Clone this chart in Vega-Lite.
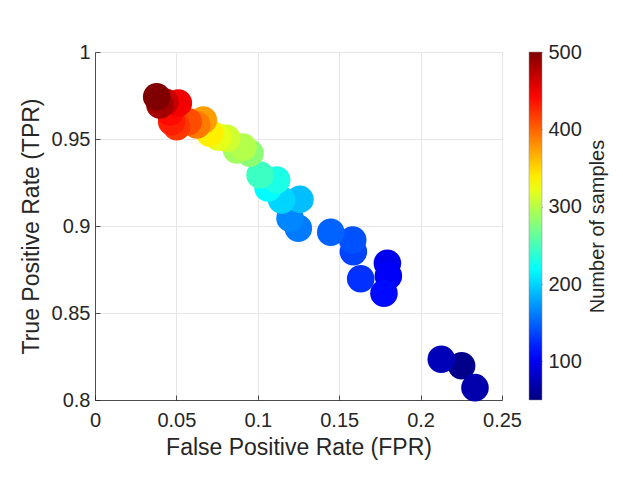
{
  "$schema": "https://vega.github.io/schema/vega-lite/v6.json",
  "autosize": {"type": "none"},
  "padding": {"left": 95, "top": 52, "right": 121, "bottom": 81},
  "width": 407,
  "height": 348,
  "background": "white",
  "config": {
    "font": "Liberation Sans",
    "view": {"stroke": null},
    "axis": {
      "labelFont": "Liberation Sans",
      "titleFont": "Liberation Sans",
      "labelFontSize": 20,
      "titleFontSize": 23,
      "titleFontWeight": "normal",
      "labelColor": "#262626",
      "titleColor": "#262626",
      "domainColor": "#262626",
      "domainWidth": 0.8,
      "tickColor": "#262626",
      "tickWidth": 0.8,
      "tickSize": -5,
      "labelFlush": false,
      "gridColor": "#e6e6e6",
      "gridWidth": 1
    }
  },
  "data": {
    "values": [
      {"fpr": 0.2252, "tpr": 0.8197, "samples": 55},
      {"fpr": 0.2334, "tpr": 0.8071, "samples": 70},
      {"fpr": 0.2127, "tpr": 0.8234, "samples": 75},
      {"fpr": 0.1796, "tpr": 0.8786, "samples": 98},
      {"fpr": 0.1802, "tpr": 0.8713, "samples": 104},
      {"fpr": 0.1775, "tpr": 0.8613, "samples": 110},
      {"fpr": 0.1632, "tpr": 0.8697, "samples": 128},
      {"fpr": 0.1587, "tpr": 0.8852, "samples": 136},
      {"fpr": 0.1583, "tpr": 0.8920, "samples": 142},
      {"fpr": 0.1448, "tpr": 0.8964, "samples": 150},
      {"fpr": 0.1249, "tpr": 0.8987, "samples": 160},
      {"fpr": 0.1198, "tpr": 0.9044, "samples": 166},
      {"fpr": 0.1259, "tpr": 0.9153, "samples": 190},
      {"fpr": 0.1147, "tpr": 0.9149, "samples": 200},
      {"fpr": 0.1063, "tpr": 0.9218, "samples": 218},
      {"fpr": 0.1116, "tpr": 0.9264, "samples": 230},
      {"fpr": 0.1014, "tpr": 0.9293, "samples": 245},
      {"fpr": 0.0952, "tpr": 0.9418, "samples": 280},
      {"fpr": 0.0870, "tpr": 0.9437, "samples": 290},
      {"fpr": 0.0909, "tpr": 0.9454, "samples": 298},
      {"fpr": 0.0809, "tpr": 0.9504, "samples": 310},
      {"fpr": 0.0756, "tpr": 0.9511, "samples": 320},
      {"fpr": 0.0706, "tpr": 0.9533, "samples": 338},
      {"fpr": 0.0665, "tpr": 0.9609, "samples": 375},
      {"fpr": 0.0625, "tpr": 0.9580, "samples": 390},
      {"fpr": 0.0573, "tpr": 0.9599, "samples": 410},
      {"fpr": 0.0502, "tpr": 0.9571, "samples": 420},
      {"fpr": 0.0471, "tpr": 0.9599, "samples": 430},
      {"fpr": 0.0461, "tpr": 0.9655, "samples": 440},
      {"fpr": 0.0512, "tpr": 0.9707, "samples": 448},
      {"fpr": 0.0430, "tpr": 0.9713, "samples": 468},
      {"fpr": 0.0399, "tpr": 0.9695, "samples": 484},
      {"fpr": 0.0379, "tpr": 0.9743, "samples": 500}
    ]
  },
  "layer": [
    {
      "mark": {"type": "circle", "size": 760, "opacity": 1},
      "encoding": {
        "x": {
          "field": "fpr",
          "type": "quantitative",
          "title": "False Positive Rate (FPR)",
          "scale": {"domain": [0, 0.25], "nice": false, "zero": false},
          "axis": {
            "values": [0, 0.05, 0.1, 0.15, 0.2, 0.25],
            "format": "~g",
            "labelPadding": 15,
            "titlePadding": 6
          }
        },
        "y": {
          "field": "tpr",
          "type": "quantitative",
          "title": "True Positive Rate (TPR)",
          "scale": {"domain": [0.8, 1], "nice": false, "zero": false},
          "axis": {
            "values": [0.8, 0.85, 0.9, 0.95, 1],
            "format": "~g",
            "labelPadding": 10,
            "titlePadding": 8
          }
        },
        "color": {
          "field": "samples",
          "type": "quantitative",
          "title": null,
          "scale": {
            "domain": [50, 106.25, 218.75, 331.25, 443.75, 500],
            "range": ["#000080", "#0000ff", "#00ffff", "#ffff00", "#ff0000", "#800000"],
            "interpolate": "rgb"
          },
          "legend": {
            "orient": "none",
            "legendX": 434,
            "legendY": 0,
            "direction": "vertical",
            "gradientLength": 348,
            "gradientThickness": 13,
            "gradientStrokeColor": "#8c8c8c",
            "gradientStrokeWidth": 0.5,
            "values": [100, 200, 300, 400, 500],
            "labelExpr": "''",
            "labelFontSize": 1
          }
        },
        "order": {"field": "samples", "type": "quantitative"}
      }
    },
    {
      "mark": {"type": "point", "opacity": 0},
      "encoding": {
        "y": {
          "field": "samples",
          "type": "quantitative",
          "scale": {"domain": [50, 500], "nice": false, "zero": false},
          "axis": {
            "orient": "right",
            "offset": 40,
            "values": [100, 200, 300, 400, 500],
            "domain": false,
            "grid": false,
            "ticks": true,
            "tickSize": -3,
            "tickColor": "#404040",
            "labelPadding": 9,
            "labelFontSize": 20,
            "title": "Number of samples",
            "titleFontSize": 20,
            "titleAngle": 270,
            "titleBaseline": "top",
            "titlePadding": 6
          }
        }
      }
    }
  ],
  "resolve": {"scale": {"y": "independent"}}
}
